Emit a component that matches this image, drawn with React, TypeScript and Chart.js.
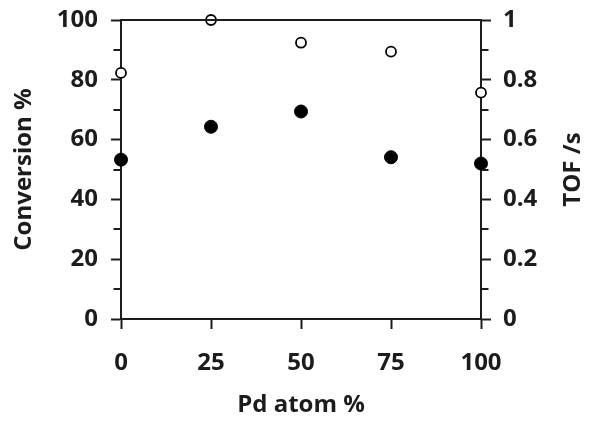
import React, { useEffect, useRef } from "react";
import { Chart, registerables } from "chart.js";

Chart.register(...registerables);

// Data
const pdAtom = [0, 25, 50, 75, 100];
const conversion = [53.3, 64.3, 69.4, 54.1, 52.0]; // filled circles, left axis (%)
const tof = [0.823, 1.0, 0.924, 0.894, 0.757]; // open circles, right axis (/s)
const xTickValues = [0, 25, 50, 75, 100];

const xTitle = "Pd atom %";
const yTitle = "Conversion %";
const y2Title = "TOF /s";

const INK = "#1c1c1c";
const FONT_FAMILY = "'Open Sans', 'DejaVu Sans', sans-serif";
const MAJOR_LEN = 10;
const MINOR_LEN = 7.5;

const isMinorLeft = (v: number) => Math.round(v) % 20 !== 0;
const isMinorRight = (v: number) => Math.round(v * 10) % 2 !== 0;

export default function App() {
  const ref = useRef<HTMLCanvasElement | null>(null);

  useEffect(() => {
    if (!ref.current) return;
    const font = { family: FONT_FAMILY, size: 24, weight: "bold" as const };

    const framePlugin = {
      id: "frame",
      afterDraw(chart: any) {
        const { ctx, chartArea } = chart;
        ctx.save();
        ctx.strokeStyle = INK;
        ctx.lineWidth = 2;
        ctx.beginPath();
        ctx.moveTo(chartArea.left, Math.round(chartArea.top));
        ctx.lineTo(chartArea.right, Math.round(chartArea.top));
        ctx.stroke();
        // shorter minor ticks
        const ys = chart.scales.y;
        const y2s = chart.scales.y2;
        ctx.beginPath();
        ys.ticks.forEach((t: any) => {
          if (!isMinorLeft(t.value)) return;
          const p = Math.round(ys.getPixelForValue(t.value));
          ctx.moveTo(chartArea.left, p);
          ctx.lineTo(chartArea.left - MINOR_LEN, p);
        });
        y2s.ticks.forEach((t: any) => {
          if (!isMinorRight(t.value)) return;
          const p = Math.round(y2s.getPixelForValue(t.value));
          ctx.moveTo(chartArea.right, p);
          ctx.lineTo(chartArea.right + MINOR_LEN, p);
        });
        ctx.stroke();
        // right axis title, reading bottom-to-top
        ctx.fillStyle = INK;
        ctx.font = `bold 24px ${FONT_FAMILY}`;
        ctx.translate(573, (chartArea.top + chartArea.bottom) / 2);
        ctx.rotate(-Math.PI / 2);
        ctx.textAlign = "center";
        ctx.textBaseline = "middle";
        ctx.fillText(y2Title, 0, 0);
        ctx.restore();
      },
    };

    const gridFor = (minor: (v: number) => boolean) => ({
      drawOnChartArea: false,
      drawTicks: true,
      tickLength: MAJOR_LEN,
      tickColor: (c: any) => (c.tick && minor(c.tick.value) ? "rgba(0,0,0,0)" : INK),
      tickWidth: 2,
    });

    const chart = new Chart(ref.current, {
      type: "scatter",
      data: {
        datasets: [
          {
            label: "Conversion",
            data: pdAtom.map((x, i) => ({ x, y: conversion[i] })),
            yAxisID: "y",
            backgroundColor: "#000",
            borderColor: "#000",
            borderWidth: 1,
            pointRadius: 6.5,
            clip: false as any,
          },
          {
            label: "TOF",
            data: pdAtom.map((x, i) => ({ x, y: tof[i] })),
            yAxisID: "y2",
            backgroundColor: "#fff",
            borderColor: "#000",
            borderWidth: 1.8,
            pointRadius: 5,
            clip: false as any,
          },
        ],
      },
      options: {
        responsive: false,
        animation: false,
        devicePixelRatio: 1,
        layout: { padding: { top: 20, left: 0, right: 0, bottom: 0 } },
        plugins: { legend: { display: false }, tooltip: { enabled: false } },
        scales: {
          x: {
            type: "linear",
            min: 0,
            max: 100,
            afterBuildTicks: (s: any) => {
              s.ticks = xTickValues.map((v) => ({ value: v }));
            },
            afterFit: (s: any) => {
              s.height = 113;
              s.paddingLeft = 0;
              s.paddingRight = 0;
            },
            grid: gridFor(() => false),
            border: { display: true, color: INK, width: 2 },
            ticks: { font, color: INK, padding: 20, maxRotation: 0, autoSkip: false },
            title: { display: true, text: xTitle, font, color: INK, padding: { top: 0, bottom: 12 } },
          },
          y: {
            type: "linear",
            position: "left",
            min: 0,
            max: 100,
            afterFit: (s: any) => {
              s.width = 121;
              s.paddingTop = 0;
              s.paddingBottom = 0;
            },
            grid: gridFor(isMinorLeft),
            border: { display: true, color: INK, width: 2 },
            ticks: {
              stepSize: 10,
              autoSkip: false,
              font,
              color: INK,
              padding: 13,
              callback: (v: any) => (isMinorLeft(Number(v)) ? "" : String(Math.round(v))),
            },
            title: { display: true, text: yTitle, font, color: INK, padding: { top: 10, bottom: 0 } },
          },
          y2: {
            type: "linear",
            position: "right",
            min: 0,
            max: 1,
            afterFit: (s: any) => {
              s.width = 119;
              s.paddingTop = 0;
              s.paddingBottom = 0;
            },
            grid: gridFor(isMinorRight),
            border: { display: true, color: INK, width: 2 },
            ticks: {
              stepSize: 0.1,
              autoSkip: false,
              font,
              color: INK,
              padding: 12,
              callback: (v: any) => (isMinorRight(Number(v)) ? "" : String(Math.round(Number(v) * 10) / 10)),
            },
          },
        },
      },
      plugins: [framePlugin],
    } as any);

    return () => chart.destroy();
  }, []);

  return (
    <div style={{ position: "fixed", left: 0, top: 0, width: 600, height: 432, background: "#fff" }}>
      <canvas ref={ref} width={600} height={432} />
    </div>
  );
}
